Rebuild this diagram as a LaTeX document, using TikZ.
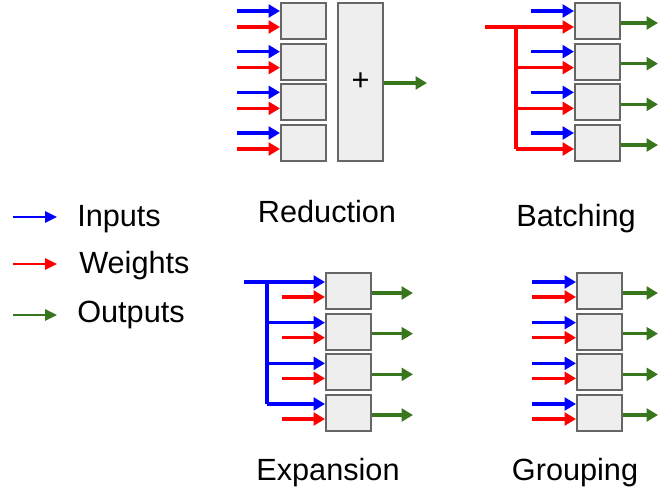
\documentclass[tikz,border=0pt]{standalone}
\usepackage{fontspec}
\setmainfont{Liberation Sans}
\usetikzlibrary{arrows.meta}
\definecolor{inblue}{RGB}{0,0,255}
\definecolor{wred}{RGB}{255,0,0}
\definecolor{ogreen}{RGB}{56,118,29}
\definecolor{boxfill}{RGB}{238,238,238}
\definecolor{boxline}{RGB}{102,102,102}
\begin{document}
\begin{tikzpicture}[x=0.75pt,y=-0.75pt,
  unitbox/.style={draw=boxline,fill=boxfill,line width=1.5pt,minimum width=33.75pt,minimum height=27pt,inner sep=0pt,anchor=north west},
  arr/.style={line width=2.4pt,-{Triangle[length=8.5pt,width=9.5pt]}},
  inarr/.style={arr,draw=inblue},
  warr/.style={arr,draw=wred},
  oarr/.style={arr,draw=ogreen},
  inline/.style={line width=2.4pt,draw=inblue},
  wline/.style={line width=2.4pt,draw=wred},
  legarr/.style={line width=1.6pt,-{Triangle[length=9pt,width=8.5pt]}},
  lbl/.style={font=\fontsize{23}{27}\selectfont,anchor=base,inner sep=0pt},
  leglbl/.style={font=\fontsize{23}{27}\selectfont,anchor=base west,inner sep=0pt}
]
\useasboundingbox (0,0) rectangle (659,495);

% ---------- Reduction ----------
\foreach \i in {0,...,3}{
  \pgfmathsetmacro\t{2+40.67*\i}
  \node[unitbox] (R\i) at (280,\t) {};
  \coordinate (RI\i) at (237,\t+9);
  \coordinate (RW\i) at (237,\t+25);
  \draw[inarr] (RI\i) -- (RI\i -| R\i.west);
  \draw[warr] (RW\i) -- (RW\i -| R\i.west);
}
\node[draw=boxline,fill=boxfill,line width=1.5pt,minimum width=33.75pt,minimum height=118.5pt,inner sep=0pt,anchor=north west,font=\fontsize{23}{27}\selectfont] (sum) at (337,2) {+};
\coordinate (RO) at (427,83);
\draw[oarr] (sum.east |- RO) -- (RO);
\node[lbl] (lred) at (327,222) {Reduction};

% ---------- Batching ----------
\foreach \i in {0,...,3}{
  \pgfmathsetmacro\t{2+40.67*\i}
  \node[unitbox] (B\i) at (574,\t) {};
  \coordinate (BI\i) at (531,\t+9);
  \coordinate (BJ\i) at (516,\t+25);
  \coordinate (BO\i) at (658,\t+21);
  \draw[inarr] (BI\i) -- (BI\i -| B\i.west);
  \draw[oarr] (B\i.east |- BO\i) -- (BO\i);
}
\coordinate (BWs) at (485,27);
\draw[wline] (BJ0) -- (BJ3);
\draw[warr] (BWs) -- (BWs -| B0.west);
\foreach \i in {1,2,3}{
  \draw[warr] (BJ\i) -- (BJ\i -| B\i.west);
}
\node[lbl] (lbat) at (576,226) {Batching};

% ---------- Expansion ----------
\foreach \i in {0,...,3}{
  \pgfmathsetmacro\t{272+40.67*\i}
  \node[unitbox] (E\i) at (325,\t) {};
  \coordinate (EJ\i) at (267,\t+10);
  \coordinate (EW\i) at (282,\t+25);
  \coordinate (EO\i) at (413,\t+21);
  \draw[warr] (EW\i) -- (EW\i -| E\i.west);
  \draw[oarr] (E\i.east |- EO\i) -- (EO\i);
}
\coordinate (EIs) at (244,282);
\draw[inline] (EJ0) -- (EJ3);
\draw[inarr] (EIs) -- (EIs -| E0.west);
\foreach \i in {1,2,3}{
  \draw[inarr] (EJ\i) -- (EJ\i -| E\i.west);
}
\node[lbl] (lexp) at (328,480) {Expansion};

% ---------- Grouping ----------
\foreach \i in {0,...,3}{
  \pgfmathsetmacro\t{272+40.67*\i}
  \node[unitbox] (G\i) at (576,\t) {};
  \coordinate (GI\i) at (532,\t+10);
  \coordinate (GW\i) at (532,\t+25);
  \coordinate (GO\i) at (658,\t+21);
  \draw[inarr] (GI\i) -- (GI\i -| G\i.west);
  \draw[warr] (GW\i) -- (GW\i -| G\i.west);
  \draw[oarr] (G\i.east |- GO\i) -- (GO\i);
}
\node[lbl] (lgrp) at (575,480) {Grouping};

% ---------- Legend ----------
\coordinate (LIa) at (13,217); \coordinate (LIb) at (57,217);
\coordinate (LWa) at (13,264); \coordinate (LWb) at (57,264);
\coordinate (LOa) at (13,315); \coordinate (LOb) at (57,315);
\draw[legarr,draw=inblue] (LIa) -- (LIb);
\draw[legarr,draw=wred] (LWa) -- (LWb);
\draw[legarr,draw=ogreen] (LOa) -- (LOb);
\node[leglbl] (tin) at (77,226) {Inputs};
\node[leglbl] (tw) at (79,273) {Weights};
\node[leglbl] (tout) at (77,322) {Outputs};
\end{tikzpicture}
\end{document}
